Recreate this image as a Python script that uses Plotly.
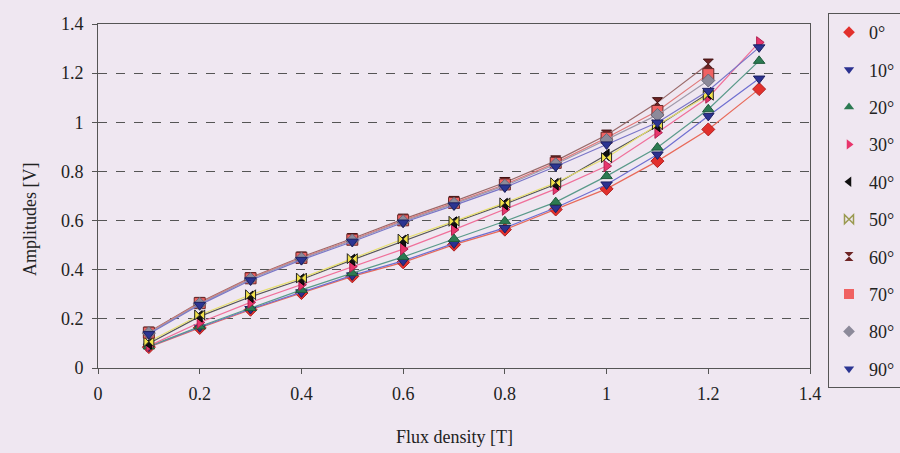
import plotly.graph_objects as go

flux_long = [0.1, 0.2, 0.3, 0.4, 0.5, 0.6, 0.7, 0.8, 0.9, 1.0, 1.1, 1.2, 1.3]
flux_short = [0.1, 0.2, 0.3, 0.4, 0.5, 0.6, 0.7, 0.8, 0.9, 1.0, 1.1, 1.2]

amp_0 = [0.085, 0.163, 0.237, 0.305, 0.373, 0.430, 0.502, 0.563, 0.645, 0.729, 0.842, 0.971, 1.135]
amp_10 = [0.087, 0.166, 0.240, 0.308, 0.377, 0.436, 0.507, 0.570, 0.652, 0.747, 0.869, 1.026, 1.178]
amp_20 = [0.088, 0.169, 0.244, 0.318, 0.386, 0.452, 0.525, 0.597, 0.675, 0.781, 0.897, 1.053, 1.250]
amp_30 = [0.090, 0.185, 0.267, 0.339, 0.413, 0.484, 0.563, 0.645, 0.729, 0.822, 0.958, 1.101, 1.325]
amp_40 = [0.100, 0.210, 0.290, 0.360, 0.440, 0.517, 0.592, 0.667, 0.748, 0.868, 0.985, 1.118]
amp_50 = [0.107, 0.216, 0.298, 0.366, 0.445, 0.525, 0.597, 0.672, 0.754, 0.856, 0.990, 1.110]
amp_60 = [0.146, 0.267, 0.368, 0.452, 0.527, 0.606, 0.678, 0.755, 0.843, 0.948, 1.080, 1.237]
amp_70 = [0.144, 0.264, 0.365, 0.448, 0.522, 0.601, 0.672, 0.747, 0.835, 0.937, 1.046, 1.196]
amp_80 = [0.142, 0.261, 0.362, 0.445, 0.519, 0.597, 0.668, 0.742, 0.829, 0.928, 1.030, 1.170]
amp_90 = [0.138, 0.257, 0.357, 0.440, 0.514, 0.592, 0.662, 0.735, 0.820, 0.910, 0.999, 1.128, 1.305]

names = ["0°", "10°", "20°", "30°", "40°", "50°", "60°", "70°", "80°", "90°"]
series = [amp_0, amp_10, amp_20, amp_30, amp_40, amp_50, amp_60, amp_70, amp_80, amp_90]
xs = [flux_long, flux_long, flux_long, flux_long, flux_short, flux_short,
      flux_short, flux_short, flux_short, flux_long]

x_title = "Flux density [T]"
y_title = "Amplitudes [V]"

symbols = ["diamond", "triangle-down", "triangle-up", "triangle-right", "triangle-left",
           "bowtie", "hourglass", "square", "diamond", "triangle-down"]
legend_symbols = ["diamond", "triangle-down", "triangle-up", "triangle-right", "triangle-left",
                  "bowtie-open", "hourglass", "square", "diamond", "triangle-down"]
mcolors = ["#e2302c", "#2b3190", "#2c7a52", "#e8356c", "#111111",
           "#f2e24a", "#6e2424", "#f06262", "#8c8a9a", "#2b3592"]
legend_colors = ["#e2302c", "#2b3190", "#2c7a52", "#e8356c", "#111111",
                 "#9a9a50", "#6e2424", "#f06262", "#8c8a9a", "#2b3592"]
mline = ["#b02020", "#1c2060", "#1d5a3a", "#b02050", "#000000",
         "#222222", "#401010", "#6a2a2a", "#6a6878", "#1c2060"]
lcolors = ["#e86a5a", "#6f6fd0", "#5a9a8a", "#f0709a", "#555555",
           "#e8e070", "#9a6a6a", "#e07a7a", "#a09aaa", "#7a76c8"]
msizes = [10, 10, 10, 10, 10, 10, 10, 11, 10, 10]

bg = "#efe7f1"
font = "Liberation Serif"
fig = go.Figure()
for nm, x, y, s, mc, ml, lc, ms in zip(names, xs, series, symbols, mcolors, mline, lcolors, msizes):
    fig.add_trace(go.Scatter(
        x=x, y=y, name=nm, mode="lines+markers", showlegend=False,
        line=dict(color=lc, width=1.2),
        marker=dict(symbol=s, color=mc, size=ms, line=dict(color=ml, width=1)),
    ))
for nm, s, lc, ms in zip(names, legend_symbols, legend_colors, msizes):
    fig.add_trace(go.Scatter(
        x=[None], y=[None], name=nm, mode="markers", legendgroup=nm,
        marker=dict(symbol=s, color=lc, size=ms - 1, line=dict(color=lc, width=1.5 if s.endswith("open") else 0)),
    ))

fig.update_layout(
    width=900, height=453,
    margin=dict(l=98, r=90, t=24, b=85, autoexpand=False),
    paper_bgcolor=bg, plot_bgcolor=bg,
    font=dict(family=font, size=17, color="#222222"),
    showlegend=True,
    legend=dict(
        xref="container", yref="container",
        x=828 / 900, y=1 - 13 / 453, xanchor="left", yanchor="top",
        bgcolor=bg, bordercolor="#555555", borderwidth=1,
        font=dict(family=font, size=18, color="#222222"),
        tracegroupgap=11, itemwidth=30, maxheight=440,
    ),
    xaxis=dict(
        range=[0, 1.4], dtick=0.2, tick0=0, showgrid=False, zeroline=False,
        showline=True, linecolor="#555555", linewidth=1, mirror=True,
        ticks="outside", ticklen=5, tickcolor="#555555", ticklabelstandoff=4,
        tickfont=dict(family=font, size=18, color="#222222"),
    ),
    yaxis=dict(
        range=[0, 1.4], dtick=0.2, tick0=0, showgrid=True, gridcolor="#555555",
        griddash="dash", gridwidth=1, zeroline=False,
        showline=True, linecolor="#555555", linewidth=1, mirror=True,
        ticks="outside", ticklen=5, tickcolor="#555555", ticklabelstandoff=5,
        tickfont=dict(family=font, size=18, color="#222222"),
    ),
    annotations=[
        dict(text=x_title, xref="paper", yref="paper", x=0.5, y=-(437 - 368) / 344,
             xanchor="center", yanchor="middle", showarrow=False,
             font=dict(family=font, size=18, color="#222222")),
        dict(text=y_title, xref="paper", yref="paper", x=-(98 - 30) / 712, y=(368 - 220) / 344,
             xanchor="center", yanchor="middle", showarrow=False, textangle=-90,
             font=dict(family=font, size=18, color="#222222")),
    ],
)

fig.write_html("out.html", config={"displayModeBar": False},
               post_script="document.body.style.margin='0';document.body.style.background='%s';" % bg)
